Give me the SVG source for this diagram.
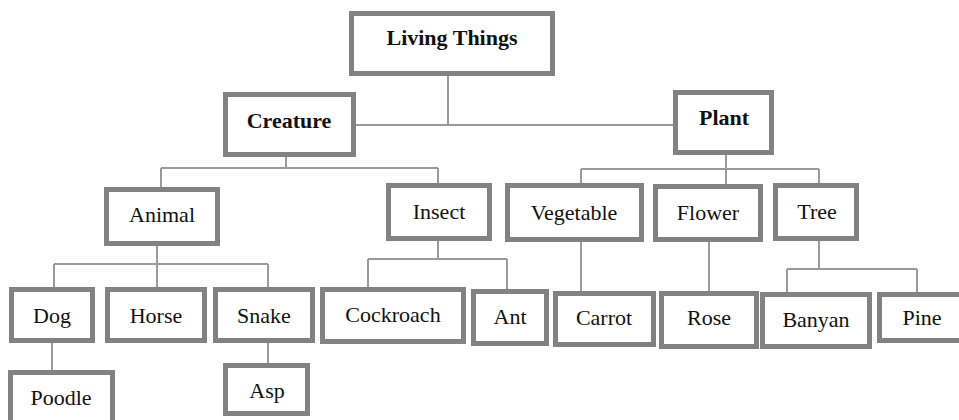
<svg xmlns="http://www.w3.org/2000/svg" width="959" height="420" viewBox="0 0 959 420">
<style>
.box{fill:#fff;stroke:#828282;stroke-width:5}
text{font-family:'Liberation Serif',Tinos,'Times New Roman','DejaVu Serif',serif;font-size:22px;fill:#111;text-anchor:middle}
.b{font-weight:bold}
.c{fill:none;stroke:#9a9a9a;stroke-width:2}
</style>
<rect width="959" height="420" fill="#fff"/>
<g id="connectors">
<path class="c" d="M448,76V125M356,125H673"/>
<path class="c" d="M286,157V168M161,168H438M161,168V187M438,168V183"/>
<path class="c" d="M726,155V169M581,169H819M581,169V183M726,169V184M819,169V183"/>
<path class="c" d="M157,246V264M54,264H268M54,264V287M157,264V287M268,264V287"/>
<path class="c" d="M52,343V370M268,343V363"/>
<path class="c" d="M438,241V259M368,259H507M368,259V287M507,259V289"/>
<path class="c" d="M581,242V291M709,242V291"/>
<path class="c" d="M819,241V269M787,269H917M787,269V292M917,269V292"/>
</g>
<g font-family="Liberation Serif, Tinos, Times New Roman, DejaVu Serif, serif">
<g id="living-things"><rect class="box" x="351.5" y="13.5" width="201" height="60"/><text class="b" x="452" y="45">Living Things</text></g>
<g id="creature"><rect class="box" x="225.5" y="94.5" width="128" height="60"/><text class="b" x="289" y="128">Creature</text></g>
<g id="plant"><rect class="box" x="675.5" y="92.5" width="96" height="60"/><text class="b" x="724" y="125">Plant</text></g>
<g id="animal"><rect class="box" x="106.5" y="189.5" width="111" height="54"/><text x="162" y="222">Animal</text></g>
<g id="insect"><rect class="box" x="388.5" y="185.5" width="101" height="53"/><text x="439" y="219">Insect</text></g>
<g id="vegetable"><rect class="box" x="507.5" y="185.5" width="134" height="54"/><text x="574" y="220">Vegetable</text></g>
<g id="flower"><rect class="box" x="655.5" y="186.5" width="105" height="53"/><text x="708" y="220">Flower</text></g>
<g id="tree"><rect class="box" x="775.5" y="185.5" width="81" height="53"/><text x="817" y="219">Tree</text></g>
<g id="dog"><rect class="box" x="11.5" y="289.5" width="81" height="51"/><text x="52" y="323">Dog</text></g>
<g id="horse"><rect class="box" x="107.5" y="289.5" width="97" height="51"/><text x="156" y="323">Horse</text></g>
<g id="snake"><rect class="box" x="215.5" y="289.5" width="97" height="51"/><text x="264" y="323">Snake</text></g>
<g id="poodle"><rect class="box" x="10.5" y="372.5" width="102" height="60"/><text x="61" y="405">Poodle</text></g>
<g id="asp"><rect class="box" x="225.5" y="365.5" width="82" height="48"/><text x="267" y="398">Asp</text></g>
<g id="cockroach"><rect class="box" x="322.5" y="289.5" width="141" height="52"/><text x="393" y="322">Cockroach</text></g>
<g id="ant"><rect class="box" x="473.5" y="291.5" width="73" height="52"/><text x="510" y="324">Ant</text></g>
<g id="carrot"><rect class="box" x="555.5" y="293.5" width="98" height="51"/><text x="604" y="325">Carrot</text></g>
<g id="rose"><rect class="box" x="661.5" y="293.5" width="95" height="53"/><text x="709" y="325">Rose</text></g>
<g id="banyan"><rect class="box" x="762.5" y="294.5" width="107" height="52"/><text x="816" y="327">Banyan</text></g>
<g id="pine"><rect class="box" x="879.5" y="294.5" width="90" height="46"/><text x="922" y="325">Pine</text></g>
</g>
</svg>
